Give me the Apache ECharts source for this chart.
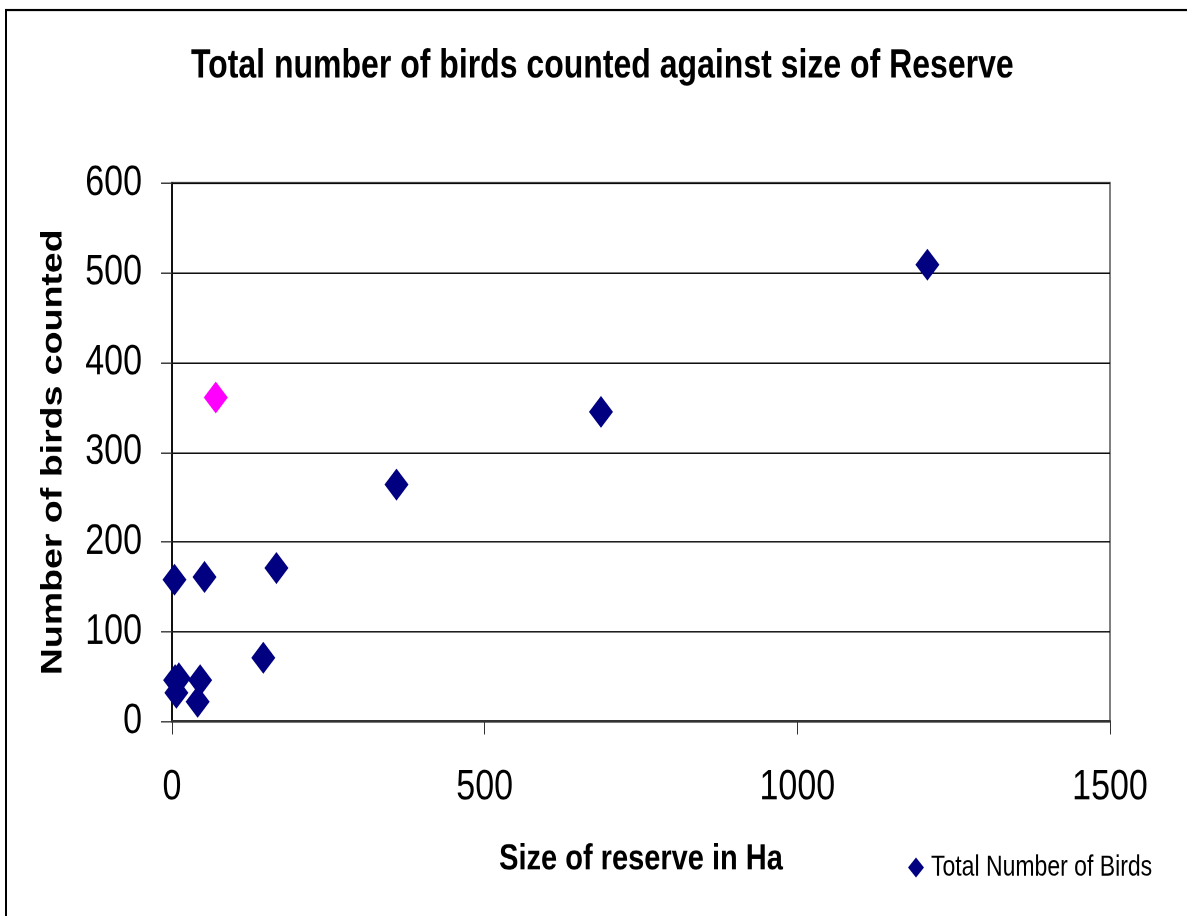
<!DOCTYPE html>
<html>
<head>
<meta charset="utf-8">
<title>Total number of birds counted against size of Reserve</title>
<script src="https://cdn.jsdelivr.net/npm/echarts@6/dist/echarts.min.js"></script>
<style>
  html, body { margin: 0; padding: 0; background: #fff; }
  #page { width: 1187px; height: 916px; position: relative; }
  /* the chart is laid out at 1187x733 and shown stretched to the 916px page height */
  #chart { position: absolute; left: 0; top: 0; width: 1187px; height: 733px; transform: scaleY(1.25); transform-origin: 0 0; }
</style>
</head>
<body>
<div id="page"><div id="chart"></div></div>
<script>
// Reserve size (Ha) and total birds counted for each reserve
const reserveSize = [1208, 686, 359, 70, 167, 146, 4, 52, 5, 11, 7, 45, 41];
const birdCount   = [509, 345, 264, 361, 171, 71, 158, 161, 46, 48, 32, 46, 22];
// the reserve drawn in a highlight colour
const highlightIndex = 3;

const xTicks = { min: 0, max: 1500, interval: 500 };
const yTicks = { min: 0, max: 600, interval: 100 };

const NAVY = '#000080';
const PINK = '#FF00FF';
const FONT = '"Liberation Sans", Arial, sans-serif';

const points = reserveSize.map((x, i) => {
  const p = { value: [x, birdCount[i]] };
  if (i === highlightIndex) p.itemStyle = { color: PINK };
  return p;
});

const chart = echarts.init(document.getElementById('chart'), null, { renderer: 'canvas', devicePixelRatio: 2 });
chart.setOption({
  backgroundColor: '#fff',
  animation: false,
  title: {
    text: 'Total number of birds counted against size of Reserve',
    left: 186,
    top: 32,
    textStyle: { fontFamily: FONT, fontWeight: 'bold', fontSize: 32, color: '#000' }
  },
  graphic: [{
    type: 'rect',
    shape: { x: 6, y: 8, width: 1300, height: 1000 },
    style: { fill: 'none', stroke: '#000', lineWidth: 2 },
    silent: true
  }],
  legend: {
    left: 903,
    top: 677.5,
    itemWidth: 16,
    itemHeight: 16,
    itemGap: 4,
    textStyle: { fontFamily: FONT, fontSize: 23, color: '#000', padding: [0, 0, 0, 2] },
    data: [{ name: 'Total Number of Birds', icon: 'diamond' }]
  },
  grid: { left: 172, right: 77, top: 146.4, bottom: 155.8, show: true, borderColor: '#808080', borderWidth: 2, backgroundColor: '#fff' },
  xAxis: {
    type: 'value',
    min: xTicks.min, max: xTicks.max, interval: xTicks.interval,
    name: 'Size of reserve in Ha',
    nameLocation: 'middle',
    nameGap: 96,
    nameTextStyle: { fontFamily: FONT, fontWeight: 'bold', fontSize: 29, color: '#000' },
    axisLine: { show: true, onZero: false, lineStyle: { color: '#333', width: 2 } },
    axisTick: { show: true, length: 10.4, lineStyle: { color: '#333', width: 1 } },
    axisLabel: { margin: 36, fontFamily: FONT, fontSize: 34, color: '#000', formatter: v => String(v) },
    splitLine: { show: false }
  },
  yAxis: {
    type: 'value',
    min: yTicks.min, max: yTicks.max, interval: yTicks.interval,
    name: 'Number of birds counted',
    nameLocation: 'middle',
    nameRotate: 90,
    nameGap: 104,
    nameTextStyle: { fontFamily: FONT, fontWeight: 'bold', fontSize: 30, color: '#000' },
    axisLine: { show: true, onZero: false, lineStyle: { color: '#111', width: 2 } },
    axisTick: { show: true, length: 11, lineStyle: { color: '#333', width: 1 } },
    axisLabel: { margin: 30, fontFamily: FONT, fontSize: 34, color: '#000', formatter: v => String(v) },
    splitLine: { show: true, lineStyle: { color: '#000', width: 1 } }
  },
  series: [{
    name: 'Total Number of Birds',
    type: 'scatter',
    symbol: 'diamond',
    symbolSize: [24, 25.6],
    itemStyle: { color: NAVY, opacity: 1 },
    data: points
  }]
});
</script>
</body>
</html>
